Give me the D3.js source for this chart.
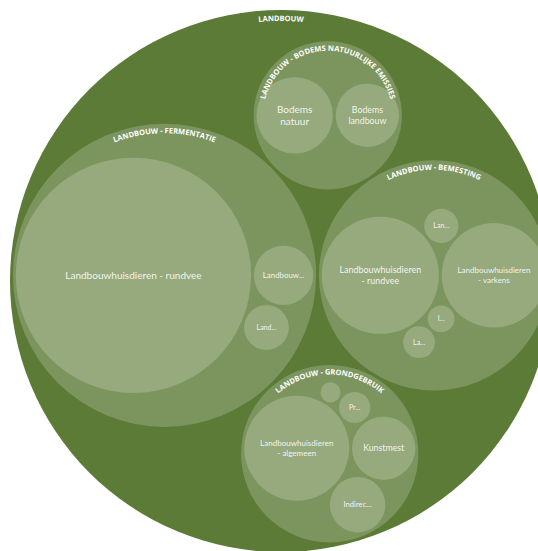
<!DOCTYPE html>
<html>
<head>
<meta charset="utf-8">
<script src="https://cdn.jsdelivr.net/npm/d3@7"></script>
<style>
  body { margin: 0; background: #fff; }
  svg { display: block; }
</style>
</head>
<body>
<div id="chart"></div>
<script>
const rootLabel = "LANDBOUW";
const groupLabels = [
  "LANDBOUW - FERMENTATIE",
  "LANDBOUW - BEMESTING",
  "LANDBOUW - GRONDGEBRUIK",
  "LANDBOUW - BODEMS NATUURLIJKE EMISSIES"
];

const fermentatieLabels = ["Landbouwhuisdieren - rundvee", "Landbouw...", "Land..."];
const fermentatieValues = [13690, 870, 497];

const bemestingLabels = ["Landbouwhuisdieren - rundvee", "Landbouwhuisdieren - varkens", "I...", "Lan...", "La..."];
const bemestingValues = [3390, 2700, 177, 289, 250];

const grondgebruikLabels = ["Landbouwhuisdieren - algemeen", "Kunstmest", "Indirec...", "Pr...", "Overig"];
const grondgebruikValues = [2720, 990, 760, 240, 100];

const bodemsLabels = ["Bodems natuur", "Bodems landbouw"];
const bodemsValues = [1444, 992];

const groupLeaves = [
  [fermentatieLabels, fermentatieValues],
  [bemestingLabels, bemestingValues],
  [grondgebruikLabels, grondgebruikValues],
  [bodemsLabels, bodemsValues]
];

const width = 538;
const height = 551;
const size = 542;
const offset = { left: 10, top: 10 };

const data = {
  name: rootLabel,
  children: groupLabels.map((g, i) => ({
    name: g,
    children: groupLeaves[i][0].map((name, j) => ({ name, value: groupLeaves[i][1][j] }))
  }))
};

const root = d3.pack()
  .size([size, size])
  .padding(3)(d3.hierarchy(data).sum(d => d.value || 0));

const svg = d3.select("#chart")
  .append("svg")
  .attr("width", width)
  .attr("height", height);

const g = svg.append("g")
  .attr("transform", `translate(${offset.left},${offset.top})`);

// circles
g.selectAll("circle")
  .data(root.descendants())
  .enter()
  .append("circle")
  .attr("cx", d => d.x)
  .attr("cy", d => d.y)
  .attr("r", d => d.r)
  .attr("fill", d => d.depth === 0 ? "#5c7b36" : "#fff")
  .attr("fill-opacity", d => d.depth === 0 ? 1 : 0.2);

// curved labels for root and groups
const parents = root.descendants().filter(d => d.children);

g.selectAll("path.arc")
  .data(parents)
  .enter()
  .append("path")
  .attr("class", "arc")
  .attr("id", (d, i) => "arc" + i)
  .attr("fill", "none")
  .attr("d", d => {
    const rr = d.r - (d.depth === 0 ? 11 : 9.5);
    return `M${d.x},${d.y + rr} A${rr},${rr} 0 1 1 ${d.x},${d.y - rr} A${rr},${rr} 0 1 1 ${d.x},${d.y + rr}`;
  });

g.selectAll("text.group")
  .data(parents)
  .enter()
  .append("text")
  .attr("class", "group")
  .attr("font-family", "'Open Sans', sans-serif")
  .attr("font-weight", "bold")
  .attr("font-size", 7.5)
  .attr("fill", "#fff")
  .append("textPath")
  .attr("href", (d, i) => "#arc" + i)
  .attr("startOffset", "50%")
  .attr("text-anchor", "middle")
  .text(d => d.data.name);

// leaf labels, fitted to the circle
const ctx = document.createElement("canvas").getContext("2d");
function measure(text) {
  ctx.font = "100px Lato";
  return ctx.measureText(text).width / 100;
}

function layoutLabel(text, r) {
  const avail = 1.4 * r;
  const cap = Math.min(10, r / 3.6);
  const words = text.split(" ");
  const options = [[text]];
  for (let i = 1; i < words.length; i++) {
    options.push([words.slice(0, i).join(" "), words.slice(i).join(" ")]);
  }
  let best = null;
  options.forEach(lines => {
    const w = d3.max(lines, measure);
    const fs = Math.min(cap, avail / w);
    if (!best || fs > best.size + 0.01) best = { lines, size: fs };
  });
  best.size = Math.max(best.size, 7);
  return best;
}

const leaves = root.leaves().filter(d => d.r >= 12);

leaves.forEach(d => {
  const lab = layoutLabel(d.data.name, d.r);
  const n = lab.lines.length;
  const t = g.append("text")
    .attr("x", d.x)
    .attr("y", d.y)
    .attr("text-anchor", "middle")
    .attr("font-family", "Lato, sans-serif")
    .attr("font-size", lab.size)
    .attr("fill", "#fff")
    .attr("fill-opacity", 0.9);
  lab.lines.forEach((line, i) => {
    t.append("tspan")
      .attr("x", d.x)
      .attr("dy", i === 0 ? `${0.35 - (n - 1) * 0.6}em` : "1.2em")
      .text(line);
  });
});
</script>
</body>
</html>
